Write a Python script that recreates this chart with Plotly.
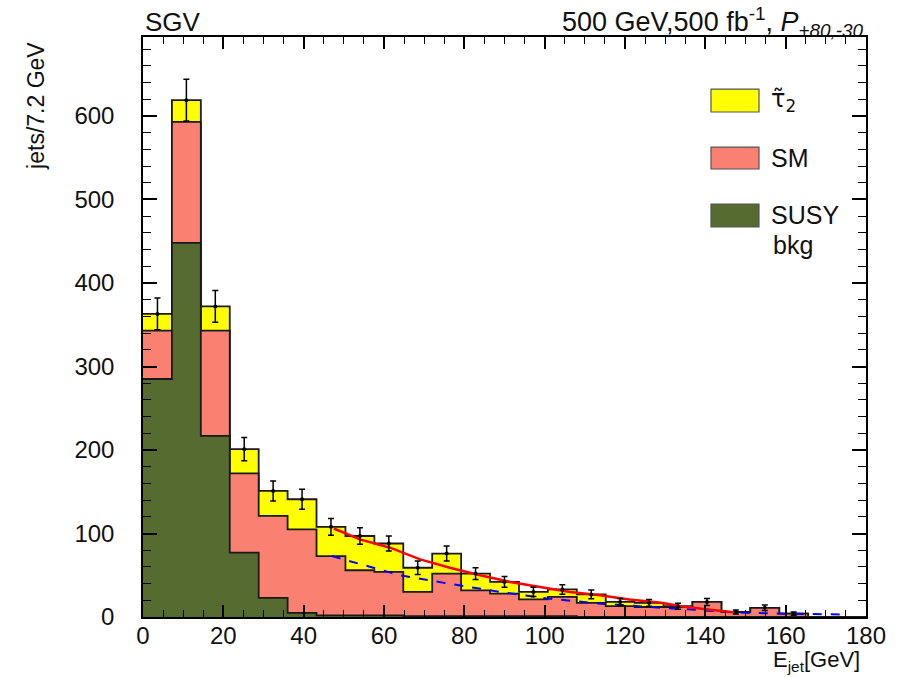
import plotly.graph_objects as go

# ---------------- data ----------------
bin_width = 7.2
bin_edges = [round(i * bin_width, 1) for i in range(26)]  # 0 .. 180
bin_centers = [round(e + bin_width / 2, 2) for e in bin_edges[:-1]]

# stacked totals (top of each layer), 25 bins of 7.2 GeV
total_stack = [363, 619, 372, 201, 151, 141, 108, 97, 88, 59, 76, 52, 42,
               30, 33, 27, 18, 17, 13, 18, 6, 11, 4, 0, 0]          # tau2 + SM + SUSY bkg
sm_stack = [343, 593, 343, 172, 121, 105, 73, 56, 54, 30, 52, 32, 28,
            21, 24, 17, 13, 12, 12, 18, 6, 11, 4, 0, 0]             # SM + SUSY bkg
susy_bkg = [285, 448, 217, 77, 23, 5, 2, 2, 2, 1, 1, 1, 1,
            1, 1, 0, 0, 0, 0, 0, 0, 0, 0, 0, 0]                     # SUSY bkg
data_err = [19, 25, 19, 14, 12, 12, 10, 10, 9, 8, 9, 7, 6.5,
            5.5, 5.7, 5.2, 4.2, 4.1, 3.6, 4.2, 2.4, 3.3, 2, 0, 0]

fit_x = [47.5, 54, 61.5, 69, 76.4, 83.9, 91.4, 98.8, 106.3, 113.8, 121, 129, 134, 139, 143.6, 148]
fit_y = [106, 93, 83, 69, 59, 50, 42, 36, 30, 26, 21, 17, 13, 10, 7, 5]

bkg_fit_x = [47, 55, 64, 76, 89, 101, 114, 129, 140, 150, 160, 175]
bkg_fit_y = [73, 62, 50, 40, 30, 22, 16, 11, 8, 5, 4, 3]

x_ticks = [0, 20, 40, 60, 80, 100, 120, 140, 160, 180]
y_ticks = [0, 100, 200, 300, 400, 500, 600]

# ---------------- figure ----------------
FONT = "Liberation Sans, Arial, sans-serif"
fig = go.Figure()

def step_layer(vals, color, name):
    fig.add_trace(go.Scatter(
        x=bin_edges, y=list(vals) + [vals[-1]],
        mode="lines", line=dict(shape="hv", color="#1a1a1a", width=1.8),
        fill="tozeroy", fillcolor=color, name=name, showlegend=False,
        hoverinfo="skip"))

step_layer(total_stack, "#FFFF00", "τ2")
step_layer(sm_stack, "#FA8072", "SM")
step_layer(susy_bkg, "#556B2F", "SUSY bkg")

fig.add_trace(go.Scatter(x=bkg_fit_x, y=bkg_fit_y, mode="lines",
                         line=dict(color="#0000FF", width=2, dash="dash"),
                         showlegend=False, hoverinfo="skip"))
fig.add_trace(go.Scatter(x=fit_x, y=fit_y, mode="lines",
                         line=dict(color="#FF0000", width=2.5),
                         showlegend=False, hoverinfo="skip"))

pts_x = [c for c, v in zip(bin_centers, total_stack) if v > 0]
pts_y = [v for v in total_stack if v > 0]
pts_e = [e for e, v in zip(data_err, total_stack) if v > 0]
fig.add_trace(go.Scatter(x=pts_x, y=pts_y, mode="markers",
                         marker=dict(color="black", size=4),
                         error_y=dict(type="data", array=pts_e, color="black",
                                      thickness=1.5, width=3),
                         showlegend=False))

axis_common = dict(showline=True, linecolor="black", linewidth=1.5, mirror="allticks",
                   ticks="inside", tickcolor="black", showgrid=False, zeroline=False)

fig.update_xaxes(range=[0, 180], tickvals=x_ticks, ticklen=12, tickwidth=1.5,
                 tickfont=dict(family=FONT, size=24, color="#111"),
                 minor=dict(dtick=5, ticklen=7, ticks="inside", tickcolor="black", tickwidth=1.2),
                 ticklabelstandoff=-4, **axis_common)
fig.update_yaxes(range=[0, 694.6], tickvals=y_ticks, ticklen=14, tickwidth=1.5,
                 tickfont=dict(family=FONT, size=24, color="#111"),
                 minor=dict(dtick=20, ticklen=8, ticks="inside", tickcolor="black", tickwidth=1.2),
                 ticklabelstandoff=22, **axis_common)

# legend drawn by hand
leg = [("#FFFF00", 0.9103, 0.8707), ("#FA8072", 0.8103, 0.7724), ("#556B2F", 0.7121, 0.6724)]
for col, y1, y0 in leg:
    fig.add_shape(type="rect", xref="paper", yref="paper", x0=0.7856, x1=0.852,
                  y0=y0, y1=y1, fillcolor=col, line=dict(color="#555", width=1.2))

def note(text, x, y, xa="left", ya="middle", size=24, family=FONT, **kw):
    fig.add_annotation(text=text, x=x, y=y, xref="paper", yref="paper",
                       xanchor=xa, yanchor=ya, showarrow=False,
                       font=dict(family=family, size=size, color="#111"), **kw)

note("\u03c4\u0303<sub>2</sub>", 0.866, 0.89, family="DejaVu Sans")
note("SM", 0.866, 0.791, size=25)
note("SUSY", 0.866, 0.693, size=25)
note("bkg", 0.868, 0.641, size=25)

note("SGV", 0.0, 1.0, ya="bottom", size=26, yshift=-2)
note("500 GeV,500 fb<sup>-1</sup>, <i>P</i><sub><i>+80,-30</i></sub>", 1.0, 1.0,
     xa="right", ya="bottom", size=27, yshift=-6)
note("jets/7.2 GeV", -0.148, 0.995, xa="center", ya="top", size=23, textangle=-90)
note("E<sub>jet</sub>[GeV]", 0.995, -0.1034, xa="right", ya="bottom", size=22)

fig.update_layout(width=907, height=677, margin=dict(l=143, r=41, t=37, b=60),
                  plot_bgcolor="white", paper_bgcolor="white", showlegend=False)

fig.write_html("out.html")
